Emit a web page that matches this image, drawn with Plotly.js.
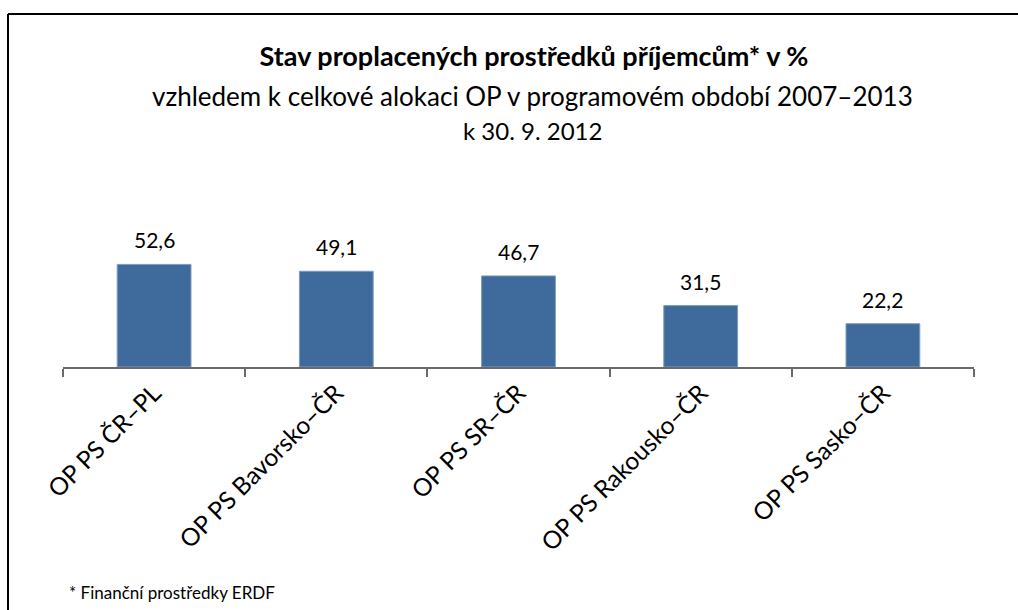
<!DOCTYPE html>
<html>
<head>
<meta charset="utf-8">
<script src="https://cdn.plot.ly/plotly-3.0.1.min.js"></script>
<style>html,body{margin:0;padding:0;background:#fff;}#chart{width:1018px;height:610px;}</style>
</head>
<body>
<div id="chart"></div>
<script>
const categories = ["OP PS ČR–PL", "OP PS Bavorsko–ČR", "OP PS SR–ČR", "OP PS Rakousko–ČR", "OP PS Sasko–ČR"];
const values = [52.6, 49.1, 46.7, 31.5, 22.2];
const titleText = "<b>Stav proplacených prostředků příjemcům* v %</b>";
const subtitleText = "vzhledem k celkové alokaci OP v programovém období 2007–2013";
const dateText = "k 30. 9. 2012";
const footnoteText = "* Finanční prostředky ERDF";

const FONT = "Lato, 'Open Sans', sans-serif";

const trace = {
  type: "bar",
  x: categories,
  y: values,
  marker: {color: "#3F6A9C", line: {color: "#7F9CC0", width: 1}},
  hoverinfo: "skip"
};

const valueAnnotations = categories.map((c, i) => ({
  x: c, y: values[i], xref: "x", yref: "y",
  text: values[i].toFixed(1).replace(".", ","),
  showarrow: false, yanchor: "bottom", yshift: 10,
  font: {family: FONT, size: 21, color: "#000"}
}));

const headCenter = (532 - 63) / 911;

const layout = {
  width: 1018, height: 610,
  margin: {l: 63, r: 44, t: 250, b: 243},
  paper_bgcolor: "#fff", plot_bgcolor: "#fff",
  separators: ", ",
  showlegend: false,
  bargap: 0.595,
  title: {text: titleText, x: 534 / 1018, xref: "container", xanchor: "center", y: 1 - 57/610, yref: "container", yanchor: "middle",
          font: {family: FONT, size: 27, color: "#000"}},
  xaxis: {
    type: "category",
    showline: true, linecolor: "#6A6A6A", linewidth: 2,
    ticks: "outside", tickson: "boundaries", ticklen: 8, tickcolor: "#6A6A6A", tickwidth: 2,
    tickangle: -45,
    tickfont: {family: FONT, size: 24.5, color: "#000"},
    showgrid: false, zeroline: false, fixedrange: true
  },
  yaxis: {
    range: [0, 60], visible: false, showgrid: false, zeroline: false, fixedrange: true
  },
  annotations: valueAnnotations.concat([
    {text: subtitleText, xref: "paper", yref: "paper", x: headCenter, y: (610 - 243 - 96) / 117, showarrow: false,
     xanchor: "center", yanchor: "middle", font: {family: FONT, size: 26, color: "#000"}},
    {text: dateText, xref: "paper", yref: "paper", x: headCenter, y: (610 - 243 - 130) / 117, showarrow: false,
     xanchor: "center", yanchor: "middle", font: {family: FONT, size: 24, color: "#000"}},
    {text: footnoteText, xref: "paper", yref: "paper", x: (67 - 63) / 911, y: (367 - 592) / 117, showarrow: false,
     xanchor: "left", yanchor: "middle", font: {family: FONT, size: 17, color: "#000"}}
  ]),
  shapes: [
    {type: "line", xref: "paper", yref: "paper", x0: (8 - 63) / 911, x1: (1020 - 63) / 911,
     y0: (367 - 14) / 117, y1: (367 - 14) / 117, line: {color: "#000", width: 2}},
    {type: "line", xref: "paper", yref: "paper", x0: (8 - 63) / 911, x1: (8 - 63) / 911,
     y0: (367 - 14) / 117, y1: (367 - 615) / 117, line: {color: "#000", width: 2}}
  ]
};

Plotly.newPlot("chart", [trace], layout, {displayModeBar: false, staticPlot: true});
</script>
</body>
</html>
